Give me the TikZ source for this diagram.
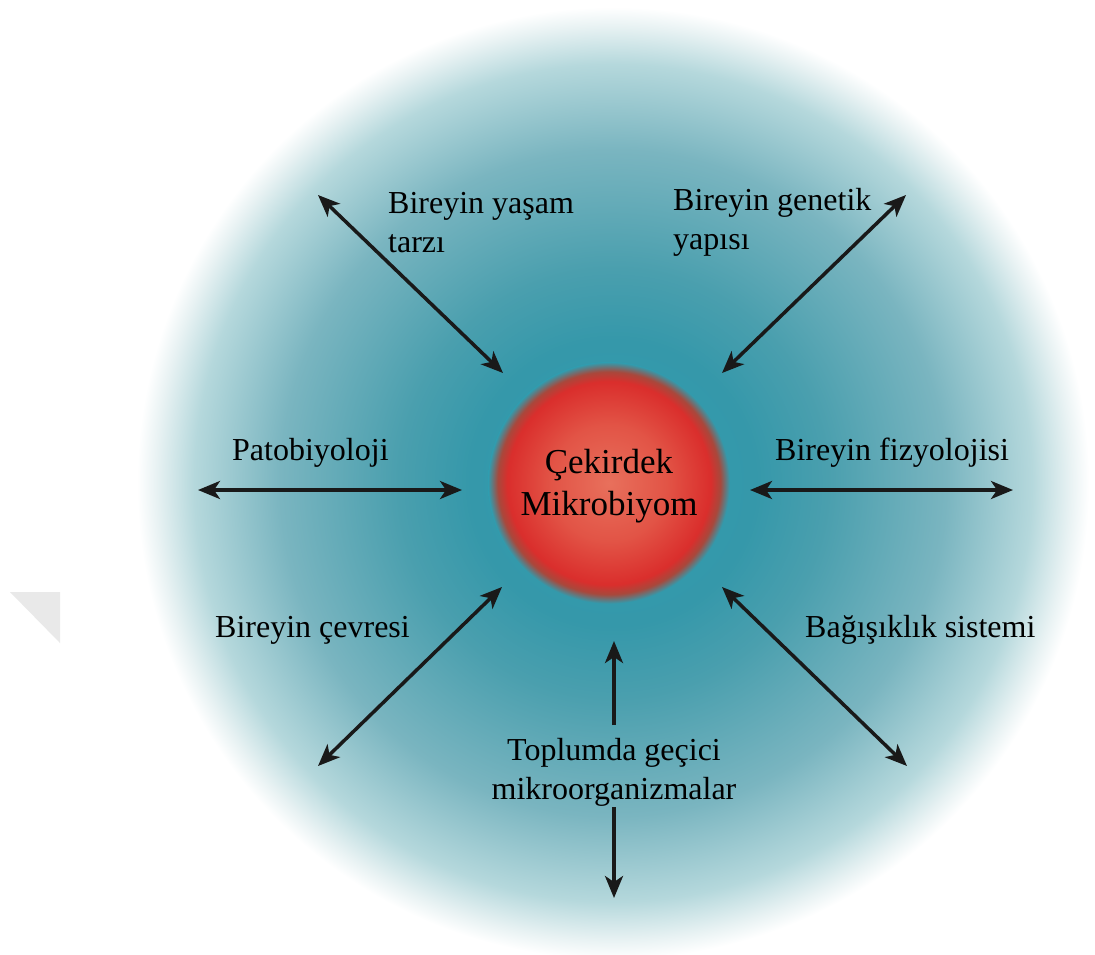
\documentclass[tikz,border=0pt]{standalone}
\usepackage{fontspec}
\setmainfont{Liberation Serif}
\usetikzlibrary{arrows.meta}
\definecolor{tealA}{HTML}{2F9DB0}
\definecolor{tealB}{HTML}{3598AA}
\definecolor{tealC}{HTML}{4A9FAE}
\definecolor{tealD}{HTML}{7AB5C0}
\definecolor{tealE}{HTML}{B5D8DC}
\definecolor{tealF}{HTML}{E8F2F3}
\definecolor{redA}{HTML}{E8705C}
\definecolor{redB}{HTML}{E25446}
\definecolor{redC}{HTML}{DA2E2C}
\definecolor{redD}{HTML}{A8483C}
\definecolor{markgray}{HTML}{E9E9E9}
\pgfdeclareradialshading{bgglow}{\pgfpoint{0bp}{0bp}}{%
  color(0bp)=(tealA); color(7.5bp)=(tealB); color(11.25bp)=(tealC);
  color(17.5bp)=(tealD); color(22bp)=(tealE); color(24bp)=(tealF);
  color(25bp)=(white); color(50bp)=(white)}
\pgfdeclareradialshading{coresphere}{\pgfpoint{0bp}{0bp}}{%
  color(0bp)=(redA); color(12bp)=(redB); color(21bp)=(redC);
  color(23bp)=(redD); color(25bp)=(tealA); color(50bp)=(tealA)}
\tikzset{
  lbl/.style={font=\fontsize{32}{39}\selectfont, inner sep=0pt, align=left, anchor=west},
  corelbl/.style={font=\fontsize{35}{42}\selectfont, align=center},
  link/.style={line width=3.5pt, draw=black!90, {Stealth[length=22pt,width=18pt,inset=6pt]}-{Stealth[length=22pt,width=18pt,inset=6pt]}},
  oneway/.style={line width=3.5pt, draw=black!90, -{Stealth[length=22pt,width=18pt,inset=6pt]}}
}
\begin{document}
\begin{tikzpicture}[x=1pt,y=-1pt]
\useasboundingbox (0,0) rectangle (1095,954);
\fill[white] (0,0) rectangle (1095,954);
% background glow
\shade[shading=bgglow] (613,483) circle (476);
% faint grey mark at left
\fill[markgray] (10,592) -- (60,592) -- (60,643) -- cycle;
% core sphere
\shade[shading=coresphere] (609,483) circle (121);
\node[corelbl] (core) at (609,486) {Çekirdek\\Mikrobiyom};
% labels
\node[lbl] (yasam) at (388,223) {Bireyin yaşam\\tarzı};
\node[lbl] (genetik) at (673,222) {Bireyin genetik\\yapısı};
\node[lbl] (pato) at (232,453) {Patobiyoloji};
\node[lbl] (fizyo) at (775,453) {Bireyin fizyolojisi};
\node[lbl] (cevre) at (215,630) {Bireyin çevresi};
\node[lbl] (bagis) at (805,630) {Bağışıklık sistemi};
\node[lbl, align=center, anchor=center] (toplum) at (614,772) {Toplumda geçici\\mikroorganizmalar};
% arrow end points
\coordinate (ulA) at (318,195); \coordinate (ulB) at (503,373);
\coordinate (urA) at (906,195); \coordinate (urB) at (722,373);
\coordinate (lA) at (198,490); \coordinate (lB) at (462,490);
\coordinate (rA) at (750,490); \coordinate (rB) at (1013,490);
\coordinate (llA) at (318,766); \coordinate (llB) at (502,587);
\coordinate (lrA) at (907,766); \coordinate (lrB) at (722,587);
\coordinate (upS) at (614,725); \coordinate (upT) at (614,641);
\coordinate (dnS) at (614,807); \coordinate (dnT) at (614,898);
% connectors
\draw[link] (ulA) -- (ulB);
\draw[link] (urA) -- (urB);
\draw[link] (lA) -- (lB);
\draw[link] (rA) -- (rB);
\draw[link] (llA) -- (llB);
\draw[link] (lrA) -- (lrB);
\draw[oneway] (upS) -- (upT);
\draw[oneway] (dnS) -- (dnT);
\end{tikzpicture}
\end{document}
